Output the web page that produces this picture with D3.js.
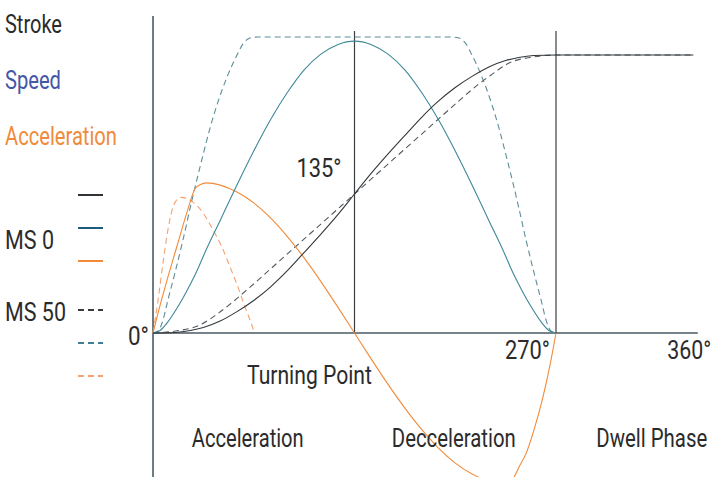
<!DOCTYPE html>
<html>
<head>
<meta charset="utf-8">
<script src="https://d3js.org/d3.v7.min.js"></script>
<style>
  body { margin: 0; background: #fff; }
  text { font-family: Roboto, "Liberation Sans", sans-serif; font-size: 25px; fill: #2b2b2b; }
</style>
</head>
<body>
<svg id="chart"></svg>
<script>
// cam angle in degrees, values in % of stroke (acceleration / speed scaled to the same axis)
var strokeMS0 = [[0,0],[15,0.2],[25,0.9],[33.75,2.0],[45,4.3],[56,7.6],[67.5,11.7],[79,16.7],[90,22.4],[101,28.8],[112.5,35.6],[124,42.7],[135,50],[146,57.3],[157.5,64.4],[169,71.2],[180,77.6],[191,83.3],[202.5,88.3],[214,92.4],[225,95.7],[236.25,98],[245,99.1],[255,99.8],[270,100],[362,100]];
var strokeMS50 = [[0,0],[15,0.7],[31.5,2.9],[43,6.8],[53.5,11.2],[65,16.5],[87,27],[110,38],[135,50],[160,62],[183,73],[205,83.5],[216.5,88.8],[226.5,92.8],[238.5,97.1],[255,99.3],[270,100],[362,100]];
var speedMS0 = [[0,0],[5,1],[10,4],[15,8],[20,12.5],[25,17.5],[30,23],[34,28],[45,40.5],[56,53],[67.5,65.5],[79,77],[90,86.5],[101,94.5],[112.5,100.3],[124,103.8],[135,105],[146,103.8],[157.5,100.3],[169,94.5],[180,86.5],[191,77],[202.5,65.5],[214,53],[225,40.5],[236,28],[240,23],[245,17.5],[250,12.5],[255,8],[260,4],[265,1],[270,0]];
var speedMS50 = [[0,0],[3.4,0.7],[6.7,4.7],[10,11.9],[14.7,21.6],[20.1,33.5],[26.1,47.8],[33.5,64],[38.2,73.7],[43.5,83.1],[49.6,92.1],[56.3,100],[60.3,104],[65,106.1],[70.4,106.5],[199.6,106.5],[205,106.1],[209.7,104],[213.7,100],[220.4,92.1],[226.5,83.1],[231.8,73.7],[236.5,64],[243.9,47.8],[249.9,33.5],[255.3,21.6],[260,11.9],[263.3,4.7],[266.6,0.7],[270,0]];
var accelMS0 = [[0,0],[3.4,7.2],[9.4,19],[16.1,31.3],[22.8,43.5],[28.1,51.8],[31.5,53.3],[36,54],[45,53.2],[56.25,50.7],[67.5,46.8],[78.75,41.4],[90,34.7],[101.25,27],[112.5,18.5],[123.75,9.4],[135,0],[146.25,-9.4],[157.5,-18.5],[168.75,-27],[180,-34.7],[191.25,-41.4],[202.5,-46.8],[213.75,-50.7],[225,-53.2],[236.25,-54],[240,-53.2],[245.9,-47.5],[250,-43.3],[254.6,-36],[261.3,-23],[266,-11.5],[270,0]];
var accelMS50 = [[0,0],[3.4,11.9],[6.7,25.2],[10,37.1],[13.4,45.3],[16.7,48.3],[19,48.8],[21.4,48.6],[26.8,47.1],[33.5,43.2],[40.2,37.1],[46.2,30.9],[51.6,23.7],[57,16.5],[61.6,9.4],[65,4.7],[67.7,0.5]];

var tickLabels = [{deg:0, text:"0°"},{deg:135, text:"135°"},{deg:270, text:"270°"},{deg:360, text:"360°"}];
var markLines = [135, 270];
var quantities = [{name:"Stroke", color:"#2b2b2b"},{name:"Speed", color:"#4456a6"},{name:"Acceleration", color:"#f08a3c"}];
var laws = ["MS 0", "MS 50"];
var phases = [{text:"Turning Point", deg:63, row:0},{text:"Acceleration", deg:26, row:1},{text:"Decceleration", deg:160, row:1},{text:"Dwell Phase", deg:297, row:1}];

// rendered widths of the condensed labels
var textWidth = {"Stroke":57, "Speed":56, "Acceleration":112, "MS 0":49, "MS 50":61,
  "0°":21, "135°":45, "270°":45, "360°":44, "Turning Point":125, "Decceleration":124, "Dwell Phase":111};

var W = 714, H = 477;
var svg = d3.select("#chart").attr("width", W).attr("height", H);

var x = d3.scaleLinear().domain([0, 270]).range([153, 556]);
var y = d3.scaleLinear().domain([0, 100]).range([333, 55]);

var line = d3.line()
  .x(function(d){ return x(d[0]); })
  .y(function(d){ return y(d[1]); })
  .curve(d3.curveMonotoneX);

// place a label at (px,py) and squeeze it horizontally to the condensed width
function label(txt, px, py, anchor, color){
  var t = svg.append("text")
    .attr("text-anchor", anchor || "start")
    .style("fill", color || null)
    .text(txt);
  var s = textWidth[txt] / t.node().getComputedTextLength();
  t.attr("transform", "translate(" + px + "," + py + ") scale(" + s + ",1)");
  return t;
}

// axes
svg.append("line").attr("x1", x(0)).attr("x2", x(0)).attr("y1", 16).attr("y2", H)
  .attr("stroke", "#3f4f59").attr("stroke-width", 1.5);
svg.append("line").attr("x1", x(0)).attr("x2", x(365)).attr("y1", y(0)).attr("y2", y(0))
  .attr("stroke", "#4b5a62").attr("stroke-width", 1.5);
svg.selectAll(".mark").data(markLines).enter().append("line")
  .attr("x1", function(d){ return x(d); }).attr("x2", function(d){ return x(d); })
  .attr("y1", 31).attr("y2", y(0))
  .attr("stroke", "#3c3f42").attr("stroke-width", 1.2);

var series = [
  {data: accelMS50, color:"#f2a270", dash:"6,4"},
  {data: speedMS50, color:"#5d8e98", dash:"6,4"},
  {data: strokeMS50, color:"#555a5e", dash:"6,4"},
  {data: accelMS0, color:"#f28a3a", dash:null},
  {data: speedMS0, color:"#3f8898", dash:null},
  {data: strokeMS0, color:"#33383c", dash:null}
];
svg.selectAll(".curve").data(series).enter().append("path")
  .attr("class", "curve")
  .attr("d", function(d){ return line(d.data); })
  .attr("fill", "none")
  .attr("stroke", function(d){ return d.color; })
  .attr("stroke-width", 1.1)
  .attr("stroke-dasharray", function(d){ return d.dash; });

// tick labels
tickLabels.forEach(function(d){
  var px = d.deg == 0 ? x(0) - 4 : d.deg == 135 ? x(135) - 13 : d.deg == 270 ? x(270) - 6 : x(360) + 21;
  var py = d.deg == 135 ? 177 : (d.deg == 0 ? 345 : 359);
  label(d.text, px, py, "end");
});

// phase labels
phases.forEach(function(d){
  label(d.text, x(d.deg), d.row == 0 ? 384 : 447);
});

// legend
quantities.forEach(function(d, i){ label(d.name, 5, 33 + i*56, "start", d.color); });
laws.forEach(function(d, i){ label(d, 5, 249 + i*72); });

var keyColors = ["#2f3336", "#1f5b7c", "#f28a3a"];
var keyDashColors = ["#3a3d40", "#3f7f96", "#f2a270"];
keyColors.forEach(function(c, i){
  svg.append("line").attr("x1", 78).attr("x2", 103)
    .attr("y1", 195 + i*33).attr("y2", 195 + i*33)
    .attr("stroke", c).attr("stroke-width", 2);
  svg.append("line").attr("x1", 78).attr("x2", 103)
    .attr("y1", 310 + i*33).attr("y2", 310 + i*33)
    .attr("stroke", keyDashColors[i]).attr("stroke-width", 2)
    .attr("stroke-dasharray", "6,4");
});
</script>
</body>
</html>
